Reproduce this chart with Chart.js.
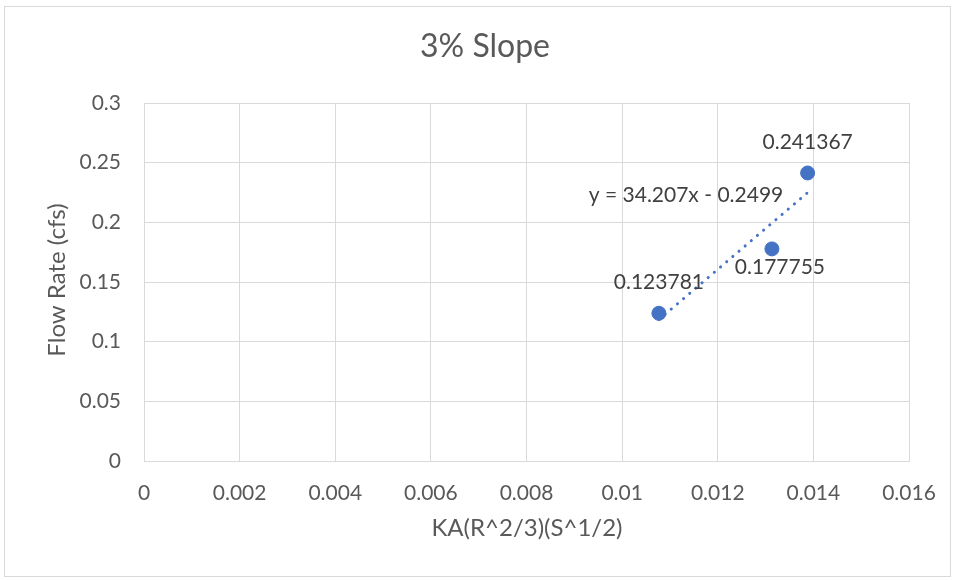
<!DOCTYPE html>
<html>
<head>
<meta charset="utf-8">
<script src="https://cdn.jsdelivr.net/npm/chart.js@4.4.0/dist/chart.umd.min.js"></script>
<style>
  html, body { margin: 0; padding: 0; background: #ffffff; }
  #wrap { width: 956px; height: 580px; position: relative; }
</style>
</head>
<body>
<div id="wrap"><canvas id="c" width="956" height="580"></canvas></div>
<script>
// ---- data ----
const chartTitle = "3% Slope";
const xAxisTitle = "KA(R^2/3)(S^1/2)";
const yAxisTitle = "Flow Rate (cfs)";
const xValues = [0.010769, 0.013133, 0.013880];
const yValues = [0.123781, 0.177755, 0.241367];
const pointLabels = ["0.123781", "0.177755", "0.241367"];
const trendSlope = 34.207;
const trendIntercept = -0.2499;
const trendLabel = "y = 34.207x - 0.2499";
const xTicks = [0, 0.002, 0.004, 0.006, 0.008, 0.01, 0.012, 0.014, 0.016];
const yTicks = [0, 0.05, 0.1, 0.15, 0.2, 0.25, 0.3];

// ---- styles ----
const BLUE = "#4472C4";
const GRID = "#d9d9d9";
const TEXT = "#595959";
const FONT = "Lato, 'Open Sans', sans-serif";
const labelOffsets = [[0, -31], [8, 18], [0, -31]];

const scatterPts = xValues.map((x, i) => ({ x: x, y: yValues[i] }));
const xMin = Math.min(...xValues), xMax = Math.max(...xValues);
const trendPts = [
  { x: xMin, y: trendSlope * xMin + trendIntercept },
  { x: xMax, y: trendSlope * xMax + trendIntercept }
];

const fmt = v => Number(Number(v).toFixed(6)).toString();

const decorPlugin = {
  id: 'decor',
  beforeDraw(chart) {
    const ctx = chart.ctx;
    ctx.save();
    ctx.fillStyle = '#ffffff';
    ctx.fillRect(0, 0, chart.width, chart.height);
    ctx.strokeStyle = GRID;
    ctx.lineWidth = 1;
    ctx.strokeRect(4.5, 6.5, 946, 570);
    ctx.restore();
  },
  afterDraw(chart) {
    const ctx = chart.ctx;
    const xs = chart.scales.x, ys = chart.scales.y;
    ctx.save();
    ctx.fillStyle = TEXT;
    ctx.textAlign = 'center';
    ctx.textBaseline = 'middle';
    // title
    ctx.font = "32px " + FONT;
    ctx.fillText(chartTitle, 485, 47);
    // axis titles
    ctx.font = "24px " + FONT;
    ctx.fillText(xAxisTitle, 527, 528);
    ctx.save();
    ctx.translate(57, 280);
    ctx.rotate(-Math.PI / 2);
    ctx.fillText(yAxisTitle, 0, 0);
    ctx.restore();
    // data labels
    ctx.font = "21px " + FONT;
    ctx.fillStyle = "#404040";
    scatterPts.forEach((p, i) => {
      const px = xs.getPixelForValue(p.x) + labelOffsets[i][0];
      const py = ys.getPixelForValue(p.y) + labelOffsets[i][1];
      ctx.fillText(pointLabels[i], px, py);
    });
    // trendline equation
    ctx.fillText(trendLabel, 686, 195);
    ctx.restore();
  }
};

new Chart(document.getElementById('c'), {
  type: 'scatter',
  data: {
    datasets: [
      {
        label: 'data',
        data: scatterPts,
        backgroundColor: BLUE,
        borderColor: BLUE,
        pointRadius: 7,
        pointHoverRadius: 7,
        order: 0
      },
      {
        type: 'line',
        label: 'trend',
        data: trendPts,
        borderColor: BLUE,
        borderWidth: 3,
        borderDash: [0.1, 8],
        borderCapStyle: 'round',
        pointRadius: 0,
        fill: false,
        order: 1
      }
    ]
  },
  options: {
    responsive: false,
    animation: false,
    devicePixelRatio: 1,
    layout: { padding: { left: 0, right: 47, top: 103, bottom: 0 } },
    plugins: {
      legend: { display: false },
      title: { display: false },
      tooltip: { enabled: false }
    },
    scales: {
      x: {
        type: 'linear',
        min: xTicks[0],
        max: xTicks[xTicks.length - 1],
        afterBuildTicks: s => { s.ticks = xTicks.map(v => ({ value: v })); },
        afterFit: s => { s.height = 119; },
        grid: { color: GRID, drawTicks: false, lineWidth: 1 },
        border: { color: GRID },
        ticks: {
          color: TEXT, font: { family: FONT, size: 21 }, padding: 20,
          maxRotation: 0, autoSkip: false,
          callback: v => fmt(v)
        }
      },
      y: {
        type: 'linear',
        min: yTicks[0],
        max: yTicks[yTicks.length - 1],
        afterBuildTicks: s => { s.ticks = yTicks.map(v => ({ value: v })); },
        afterFit: s => { s.width = 144; },
        grid: { color: GRID, drawTicks: false, lineWidth: 1 },
        border: { color: GRID },
        ticks: {
          color: TEXT, font: { family: FONT, size: 21 }, padding: 23,
          autoSkip: false,
          callback: v => fmt(v)
        }
      }
    }
  },
  plugins: [decorPlugin]
});
</script>
</body>
</html>
